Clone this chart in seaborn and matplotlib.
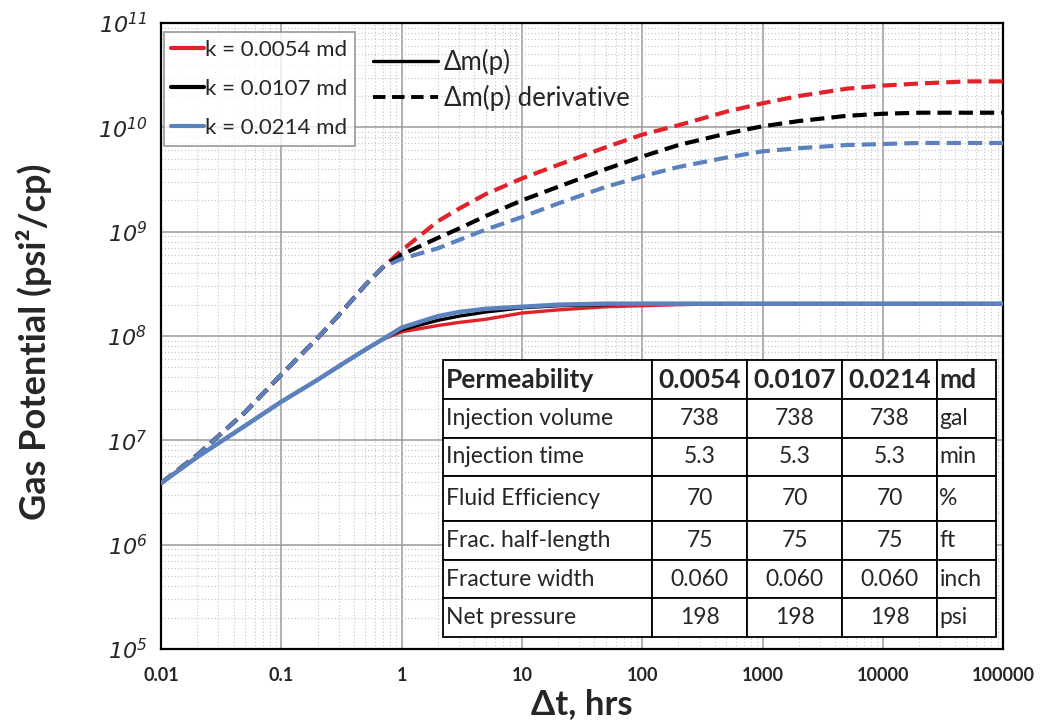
import numpy as np
import pandas as pd
import matplotlib
matplotlib.use("Agg")
import matplotlib.pyplot as plt
import seaborn as sns
from matplotlib.lines import Line2D
from matplotlib.ticker import FixedLocator, LogLocator, NullFormatter, FixedFormatter

# ---------------- data ----------------
time_hrs = [0.01, 0.02, 0.05, 0.1, 0.2, 0.3, 0.5, 0.7, 1, 2, 3, 5, 10, 20, 50,
            100, 200, 500, 1000, 2000, 5000, 10000, 20000, 50000, 100000]

# log10 of gas potential, psi^2/cp
dmp_k0054 = [6.59, 6.84, 7.14, 7.37, 7.58, 7.71, 7.87, 7.97, 8.04, 8.10, 8.13, 8.16, 8.22,
             8.25, 8.28, 8.29, 8.30, 8.31, 8.31, 8.31, 8.31, 8.31, 8.31, 8.31, 8.31]
dmp_k0107 = [6.59, 6.84, 7.14, 7.37, 7.58, 7.71, 7.87, 7.97, 8.06, 8.15, 8.19, 8.23, 8.27,
             8.29, 8.30, 8.31, 8.31, 8.31, 8.31, 8.31, 8.31, 8.31, 8.31, 8.31, 8.31]
dmp_k0214 = [6.59, 6.84, 7.14, 7.37, 7.58, 7.71, 7.87, 7.97, 8.08, 8.19, 8.23, 8.26, 8.28,
             8.30, 8.31, 8.31, 8.31, 8.31, 8.31, 8.31, 8.31, 8.31, 8.31, 8.31, 8.31]

der_k0054 = [6.59, 6.86, 7.27, 7.63, 7.98, 8.20, 8.49, 8.66, 8.82, 9.10, 9.22, 9.36, 9.51,
             9.64, 9.81, 9.93, 10.02, 10.15, 10.23, 10.30, 10.37, 10.40, 10.42, 10.44, 10.44]
der_k0107 = [6.59, 6.86, 7.27, 7.63, 7.98, 8.20, 8.49, 8.66, 8.78, 8.94, 9.03, 9.15, 9.30,
             9.43, 9.60, 9.72, 9.83, 9.94, 10.01, 10.06, 10.11, 10.13, 10.14, 10.14, 10.14]
der_k0214 = [6.59, 6.86, 7.27, 7.63, 7.98, 8.20, 8.49, 8.66, 8.74, 8.84, 8.92, 9.02, 9.14,
             9.27, 9.43, 9.53, 9.62, 9.71, 9.77, 9.80, 9.83, 9.84, 9.85, 9.85, 9.85]

series_labels = ["k = 0.0054 md", "k = 0.0107 md", "k = 0.0214 md"]

x_tick_labels = ["0.01", "0.1", "1", "10", "100", "1000", "10000", "100000"]
y_exponents = [5, 6, 7, 8, 9, 10, 11]

table_rows = [
    ["Permeability", "0.0054", "0.0107", "0.0214", "md"],
    ["Injection volume", "738", "738", "738", "gal"],
    ["Injection time", "5.3", "5.3", "5.3", "min"],
    ["Fluid Efficiency", "70", "70", "70", "%"],
    ["Frac. half-length", "75", "75", "75", "ft"],
    ["Fracture width", "0.060", "0.060", "0.060", "inch"],
    ["Net pressure", "198", "198", "198", "psi"],
]

# ---------------- style ----------------
sns.set_style("white")
plt.rcParams["font.family"] = ["Lato", "DejaVu Sans"]
plt.rcParams["mathtext.fontset"] = "custom"
plt.rcParams["mathtext.rm"] = "DejaVu Sans:italic"
plt.rcParams["mathtext.it"] = "DejaVu Sans:italic"

RED = "#E1222A"
BLACK = "#000000"
BLUE = "#5B82BC"
colors = [RED, BLACK, BLUE]

fig = plt.figure(figsize=(10.46, 7.23), dpi=100)
ax = fig.add_axes([0.154, 0.1024, 0.805, 0.8658])
ax.set_xscale("log")
ax.set_yscale("log")
ax.set_xlim(0.01, 100000)
ax.set_ylim(1e5, 1e11)

t = np.array(time_hrs)
solids = [dmp_k0054, dmp_k0107, dmp_k0214]
derivs = [der_k0054, der_k0107, der_k0214]

for lab, col, d in zip(series_labels, colors, derivs):
    df = pd.DataFrame({"t": t, "v": 10 ** np.array(d)})
    sns.lineplot(data=df, x="t", y="v", ax=ax, color=col, lw=3.0, zorder=3)
    ax.lines[-1].set_dashes([3.4, 1.7])

for lab, col, d in zip(series_labels, colors, solids):
    df = pd.DataFrame({"t": t, "v": 10 ** np.array(d)})
    lw = 3.2 if col == BLUE else 2.4
    sns.lineplot(data=df, x="t", y="v", ax=ax, color=col, lw=lw, zorder=4)

# grid / ticks
ax.xaxis.set_major_locator(FixedLocator([10.0 ** e for e in range(-2, 6)]))
ax.xaxis.set_major_formatter(FixedFormatter(x_tick_labels))
ax.xaxis.set_minor_locator(LogLocator(base=10, subs=np.arange(2, 10), numticks=20))
ax.xaxis.set_minor_formatter(NullFormatter())
ax.yaxis.set_major_locator(FixedLocator([10.0 ** e for e in y_exponents]))
ax.yaxis.set_major_formatter(FixedFormatter([f"$10^{{{e}}}$" for e in y_exponents]))
ax.yaxis.set_minor_locator(LogLocator(base=10, subs=np.arange(2, 10), numticks=20))
ax.yaxis.set_minor_formatter(NullFormatter())

ax.grid(which="major", color="#9a9a9a", lw=1.1, zorder=0)
ax.grid(which="minor", color="#c4c4c4", lw=0.8, ls=(0, (1, 2)), zorder=0)
ax.set_axisbelow(True)

for s in ax.spines.values():
    s.set_color("black")
    s.set_linewidth(1.6)

ax.tick_params(axis="x", which="major", direction="out", length=6, width=1.2,
               labelsize=13, pad=7)
ax.tick_params(axis="y", which="major", direction="out", length=6, width=1.2,
               labelsize=16, pad=4)
ax.tick_params(which="minor", length=0)
for lbl in ax.get_xticklabels():
    lbl.set_fontweight("bold")

ax.set_xlabel("Δt, hrs", fontsize=25, fontweight="bold")
ax.xaxis.set_label_coords(0.5, -0.063)
ax.set_ylabel("Gas Potential (psi²/cp)", fontsize=26, fontweight="bold")
ax.yaxis.set_label_coords(-0.13, 0.49)

# legends
h1 = [Line2D([], [], color=c, lw=3) for c in colors]
leg1 = ax.legend(h1, series_labels, loc="upper left", bbox_to_anchor=(0.003, 0.985),
                 borderaxespad=0, fontsize=16, frameon=True, fancybox=False,
                 edgecolor="#808080", handlelength=1.45, handletextpad=0.05,
                 labelspacing=0.85, borderpad=0.35)
leg1.get_frame().set_linewidth(1.2)
ax.add_artist(leg1)

h2 = [Line2D([], [], color="black", lw=2.4),
      Line2D([], [], color="black", lw=2.8, dashes=[3.2, 1.7])]
leg2 = ax.legend(h2, ["Δm(p)", "Δm(p) derivative"], loc="upper left",
                 bbox_to_anchor=(0.252, 0.958), borderaxespad=0, fontsize=18.5,
                 frameon=False, handlelength=2.5, handletextpad=0.25,
                 labelspacing=0.36, borderpad=0)

# table
col_w = [209, 95, 95, 95, 59]
tot = sum(col_w)
tbl = ax.table(cellText=table_rows, colWidths=[w / tot for w in col_w],
               bbox=[0.3349, 0.0192, 0.6568, 0.4425], zorder=6)
tbl.auto_set_font_size(False)
row_h = [39.5, 38.1, 38.4, 45.2, 38.8, 38.5, 38.5]
for (r, c), cell in tbl.get_celld().items():
    cell.set_height(row_h[r] / 1000)
    cell.set_edgecolor("black")
    cell.set_linewidth(1.3)
    cell.set_facecolor("white")
    txt = cell.get_text()
    txt.set_fontsize(19 if r == 0 else 16.5)
    if c == 0:
        cell._loc = "left"
        txt.set_ha("left")
        cell.PAD = 0.015
    elif c == 4:
        cell._loc = "left"
        txt.set_ha("left")
        cell.PAD = 0.04
    else:
        cell._loc = "center"
        txt.set_ha("center")
    if r == 0:
        txt.set_fontweight("bold")

fig.savefig("out.png", dpi=100, facecolor="white")
